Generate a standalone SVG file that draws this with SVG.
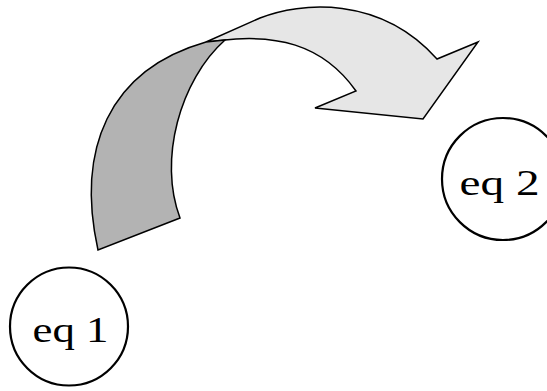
<svg xmlns="http://www.w3.org/2000/svg" width="547" height="391" viewBox="0 0 547 391">
<style>
.ln{stroke:#000;stroke-width:1.5;stroke-linejoin:miter}
.node circle{fill:#fff;stroke:#000;stroke-width:2.2}
.node text{font-family:"Liberation Serif","Times New Roman",serif;font-size:36px;fill:#000;text-anchor:middle}
</style>
<rect width="547" height="391" fill="#fff"/>
<g id="connectors">
<path class="ln" fill="#e6e6e6" d="M206,42 L260,18 C300,2 380,-5 437,59 L478,42 L423,119 L315,108 L356,91 C320,40 270,37 236,39 L225,40 Z"/>
<path class="ln" fill="#b3b3b3" d="M98,250 C76,150 108,70 206,42 L225,40 C180,80 158,160 180,218 Z"/>
</g>
<g id="eq1" class="node">
<circle cx="69" cy="326.5" r="59"/>
<text x="70.5" y="341.5" textLength="76" lengthAdjust="spacingAndGlyphs">eq 1</text>
</g>
<g id="eq2" class="node">
<circle cx="503" cy="179" r="61"/>
<text x="499.5" y="195" textLength="80" lengthAdjust="spacingAndGlyphs">eq 2</text>
</g>
</svg>
